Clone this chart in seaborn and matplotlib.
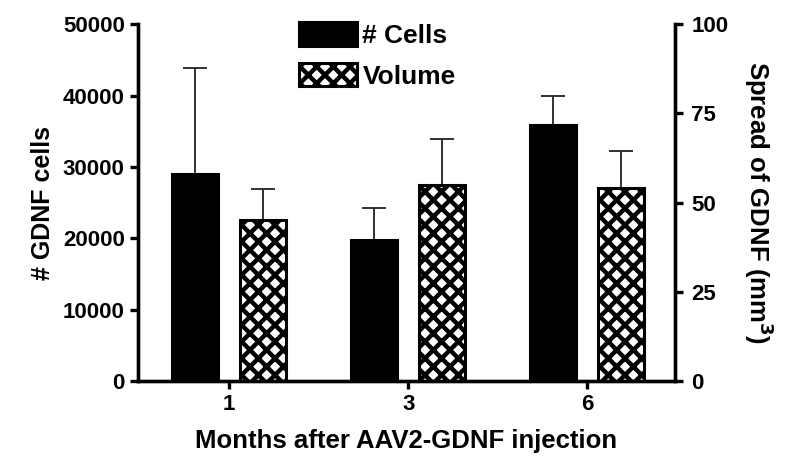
import pandas as pd
import numpy as np
import seaborn as sns
import matplotlib.pyplot as plt

# values (mean + upper SEM)
months = ['1', '3', '6']
cells_mean = [29000, 19700, 35900]
cells_err = [14800, 4500, 4100]
volume_mean = [45.0, 55.0, 54.0]      # mm^3, right axis
volume_err = [8.8, 12.8, 10.6]
series = ['# Cells', 'Volume']

left_max, right_max = 50000, 100
scale = left_max / right_max  # volume drawn in left-axis units

sns.set_style('ticks')
plt.rcParams['font.family'] = ['Liberation Sans', 'DejaVu Sans']
plt.rcParams['font.weight'] = 'bold'
plt.rcParams['hatch.linewidth'] = 3.2
plt.rcParams['hatch.color'] = 'black'
for k in ('text.color', 'axes.labelcolor', 'xtick.color', 'ytick.color', 'axes.edgecolor'):
    plt.rcParams[k] = 'black'

df = pd.concat([
    pd.DataFrame({'month': months, 'value': cells_mean, 'series': series[0]}),
    pd.DataFrame({'month': months, 'value': np.array(volume_mean) * scale, 'series': series[1]}),
])
errs = list(cells_err) + list(np.array(volume_err) * scale)

fig = plt.figure(figsize=(8, 4.74), dpi=100)
ax = fig.add_axes([0.1725, 0.196, 0.671, 0.753])

sns.barplot(data=df, x='month', y='value', hue='series', hue_order=series, order=months,
            palette=['black', 'white'], width=0.76, gap=0.32, errorbar=None, legend=False,
            edgecolor='black', linewidth=2.2, ax=ax)

bars = ax.patches[:6]
for p in bars[3:]:
    p.set_hatch('xx')

# one-sided error bars
xs = [p.get_x() + p.get_width() / 2 for p in bars]
ys = [p.get_height() for p in bars]
ax.errorbar(xs, ys, yerr=[np.zeros(len(errs)), errs], fmt='none', ecolor='#222222',
            elinewidth=1.3, capsize=8.5, capthick=1.3, zorder=0)

ax.set_xlim(-0.51, 2.49)
ax.set_ylim(0, left_max)
ax.set_yticks([0, 10000, 20000, 30000, 40000, 50000])

ax2 = ax.twinx()
ax2.set_ylim(0, right_max)
ax2.set_yticks([0, 25, 50, 75, 100])

for a in (ax, ax2):
    a.spines['top'].set_visible(False)
    for s in ('left', 'right', 'bottom'):
        a.spines[s].set_linewidth(2.4)
    a.tick_params(width=2.4, length=6, labelsize=16)
ax2.tick_params(pad=6)

ax.set_xlabel('Months after AAV2-GDNF injection', fontsize=18.5, fontweight='bold', labelpad=10)
ax.set_ylabel('# GDNF cells', fontsize=18, fontweight='bold', labelpad=6)
ax2.set_ylabel('Spread of GDNF (mm$^3$)', fontsize=18.5, fontweight='bold', rotation=270, labelpad=34)

ax2.legend([bars[0], bars[3]], series, loc='upper left', bbox_to_anchor=(0.30, 1.005), frameon=False,
           fontsize=19, handlelength=2.2, handleheight=1.0, handletextpad=0.2, labelspacing=0.55,
           borderpad=0, borderaxespad=0)

plt.savefig('out.png', dpi=100)
